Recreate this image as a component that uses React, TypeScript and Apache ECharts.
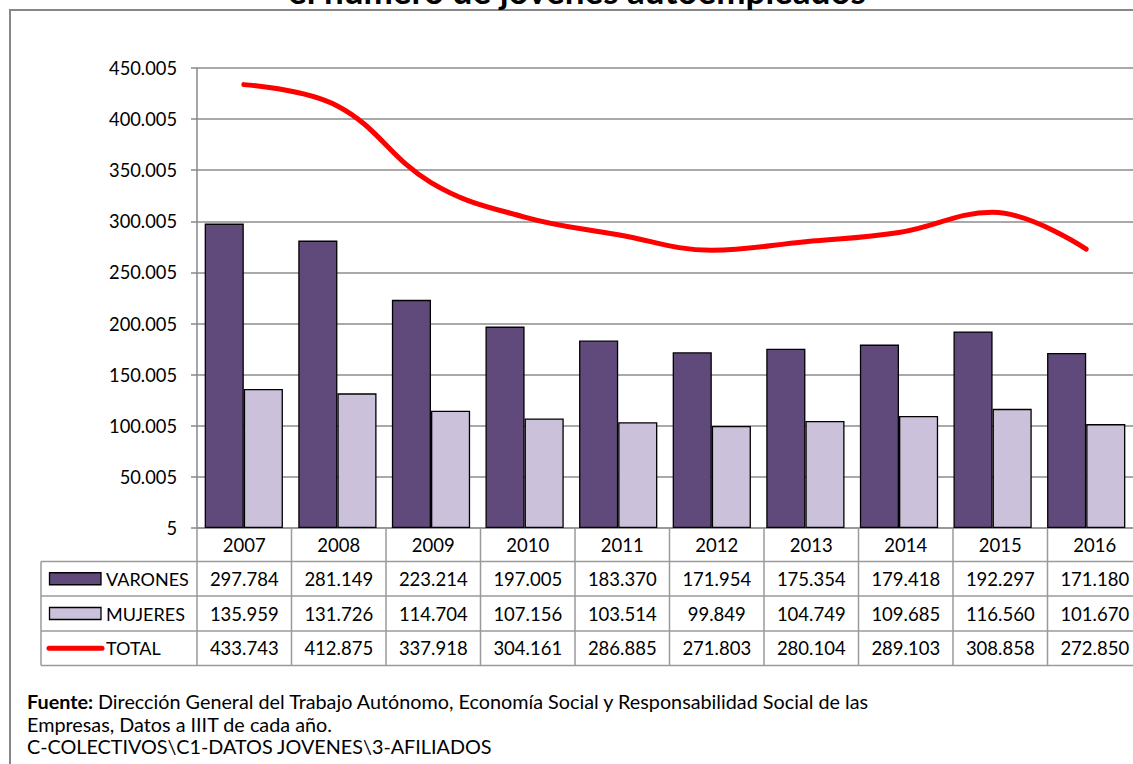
import React, { useEffect, useRef } from "react";
import * as echarts from "echarts";

const TITLE = "el número de jóvenes autoempleados";
const YEARS = ["2007", "2008", "2009", "2010", "2011", "2012", "2013", "2014", "2015", "2016"];
const VARONES = [297784, 281149, 223214, 197005, 183370, 171954, 175354, 179418, 192297, 171180];
const MUJERES = [135959, 131726, 114704, 107156, 103514, 99849, 104749, 109685, 116560, 101670];
const TOTAL = [433743, 412875, 337918, 304161, 286885, 271803, 280104, 289103, 308858, 272850];
const SERIES_NAMES = ["VARONES", "MUJERES", "TOTAL"];
const Y_MIN = 5;
const Y_MAX = 450005;
const Y_STEP = 50000;
const FOOTER = [
  "Dirección General del Trabajo Autónomo, Economía Social y Responsabilidad Social de las",
  "Empresas, Datos a IIIT de cada año.",
  "C-COLECTIVOS\\C1-DATOS JOVENES\\3-AFILIADOS",
];

const fmt = (n: number) => {
  if (n < 1000) return String(n);
  const t = Math.floor(n / 1000);
  const r = String(n % 1000).padStart(3, "0");
  return t + "." + r;
};

const W = 1133;
const H = 764;
const GRID_LEFT = 197;
const GRID_TOP = 68;
const GRID_BOTTOM_Y = 528;
const GRID_RIGHT = -9;
const PLOT_W = W - GRID_LEFT - GRID_RIGHT;
const CAT_W = PLOT_W / YEARS.length;
const ROW_Y = [528, 561.5, 596, 631, 665.5];
const LEG_LEFT = 41;
const DARK = "#604A7B";
const LIGHT = "#CCC1DA";
const RED = "#FF0000";
const TABLE_LINE = "#9a9a9a";
const FONT = "Lato, Carlito, 'Open Sans', sans-serif";

export default function App() {
  const ref = useRef<HTMLDivElement>(null);
  useEffect(() => {
    if (!ref.current) return;
    const chart = echarts.init(ref.current, undefined, { renderer: "svg" });
    const graphics: any[] = [];
    graphics.push({
      type: "rect",
      shape: { x: 10, y: 10, width: 1300, height: 900 },
      style: { fill: "none", stroke: "#878787", lineWidth: 2 },
      silent: true,
    });
    graphics.push({
      type: "text",
      style: {
        text: TITLE,
        x: 577,
        y: 7,
        textAlign: "center",
        textVerticalAlign: "bottom",
        font: "bold 35px " + FONT,
        fill: "#000",
      },
    });
    const rightX = GRID_LEFT + PLOT_W;
    ROW_Y.forEach((y, i) => {
      graphics.push({
        type: "line",
        shape: { x1: i === 0 ? GRID_LEFT : LEG_LEFT, y1: y, x2: rightX, y2: y },
        style: { stroke: TABLE_LINE, lineWidth: 1.5 },
      });
    });
    graphics.push({
      type: "line",
      shape: { x1: LEG_LEFT, y1: ROW_Y[1], x2: LEG_LEFT, y2: ROW_Y[4] },
      style: { stroke: TABLE_LINE, lineWidth: 1.5 },
    });
    for (let i = 0; i <= YEARS.length; i++) {
      const x = GRID_LEFT + i * CAT_W;
      graphics.push({
        type: "line",
        shape: { x1: x, y1: ROW_Y[0], x2: x, y2: ROW_Y[4] },
        style: { stroke: TABLE_LINE, lineWidth: 1.5 },
      });
    }
    const cellFont = "18.5px " + FONT;
    const rows = [YEARS, VARONES.map(fmt), MUJERES.map(fmt), TOTAL.map(fmt)];
    rows.forEach((row, r) => {
      const cy = (ROW_Y[r] + ROW_Y[r + 1]) / 2;
      row.forEach((t, i) => {
        graphics.push({
          type: "text",
          style: {
            text: t,
            x: GRID_LEFT + (i + 0.5) * CAT_W,
            y: cy,
            textAlign: "center",
            textVerticalAlign: "middle",
            font: cellFont,
            fill: "#000",
          },
        });
      });
    });
    SERIES_NAMES.forEach((name, k) => {
      const cy = (ROW_Y[k + 1] + ROW_Y[k + 2]) / 2;
      if (k < 2) {
        graphics.push({
          type: "rect",
          shape: { x: 49.5, y: cy - 6, width: 51.5, height: 12 },
          style: { fill: k === 0 ? DARK : LIGHT, stroke: "#000", lineWidth: 1.3 },
        });
      } else {
        graphics.push({
          type: "line",
          shape: { x1: 49, y1: cy, x2: 102, y2: cy },
          style: { stroke: RED, lineWidth: 5, lineCap: "round" },
        });
      }
      graphics.push({
        type: "text",
        style: {
          text: name,
          x: 106,
          y: cy,
          textAlign: "left",
          textVerticalAlign: "middle",
          font: "18px " + FONT,
          fill: "#000",
        },
      });
    });
    const footY = [701, 724, 746];
    const footFont = 19.8;
    graphics.push({
      type: "text",
      style: {
        text: "Fuente:",
        x: 27,
        y: footY[0],
        textVerticalAlign: "middle",
        font: "bold " + footFont + "px " + FONT,
        fill: "#000",
      },
    });
    FOOTER.forEach((t, i) => {
      graphics.push({
        type: "text",
        style: {
          text: t,
          x: i === 0 ? 98 : 27,
          y: footY[i],
          textVerticalAlign: "middle",
          font: footFont + "px " + FONT,
          fill: "#000",
        },
      });
    });

    chart.setOption({
      animation: false,
      backgroundColor: "#fff",
      grid: {
        left: GRID_LEFT,
        top: GRID_TOP,
        right: GRID_RIGHT,
        bottom: H - GRID_BOTTOM_Y,
        containLabel: false,
      },
      xAxis: {
        type: "category",
        data: YEARS,
        axisLine: { show: true, lineStyle: { color: TABLE_LINE, width: 1.5 } },
        axisTick: { show: false },
        axisLabel: { show: false },
      },
      yAxis: {
        type: "value",
        min: Y_MIN,
        max: Y_MAX,
        interval: Y_STEP,
        axisLine: { show: true, lineStyle: { color: "#888", width: 1.5 } },
        axisTick: { show: true, length: 6, lineStyle: { color: "#888", width: 1.5 } },
        axisLabel: {
          formatter: (v: number) => fmt(v),
          fontFamily: FONT,
          fontSize: 18.3,
          color: "#000",
          margin: 20,
        },
        splitLine: { show: true, lineStyle: { color: "#8c8c8c", width: 1.5 } },
      },
      series: [
        {
          name: SERIES_NAMES[0],
          type: "bar",
          data: VARONES,
          barGap: "0%",
          barCategoryGap: "16.4%",
          itemStyle: { color: DARK, borderColor: "#000", borderWidth: 1.3 },
        },
        {
          name: SERIES_NAMES[1],
          type: "bar",
          data: MUJERES,
          barGap: "0%",
          barCategoryGap: "16.4%",
          itemStyle: { color: LIGHT, borderColor: "#000", borderWidth: 1.3 },
        },
        {
          name: SERIES_NAMES[2],
          type: "line",
          data: TOTAL,
          smooth: 0.4,
          symbol: "none",
          lineStyle: { color: RED, width: 5, cap: "round" },
          z: 5,
        },
      ],
      graphic: graphics,
    });
    return () => chart.dispose();
  }, []);
  return (
    <div
      ref={ref}
      style={{ position: "fixed", left: 0, top: 0, width: W, height: H, background: "#fff" }}
    />
  );
}
